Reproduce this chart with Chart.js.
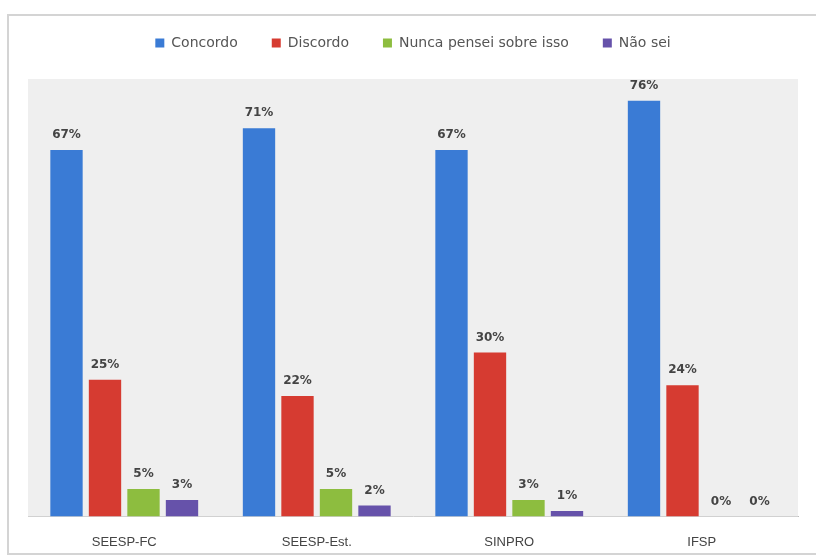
<!DOCTYPE html>
<html>
<head>
<meta charset="utf-8">
<script src="https://cdn.jsdelivr.net/npm/chart.js@4.4.1/dist/chart.umd.min.js"></script>
<style>
  html, body { margin: 0; padding: 0; background: #fff; }
  #quadro { position: absolute; left: 7px; top: 14px; width: 820px; height: 541px; border: 2px solid #d4d4d4; box-sizing: border-box; }
  #grafico { position: absolute; left: 0; top: 0; }
</style>
</head>
<body>
<div id="quadro"></div>
<canvas id="grafico" width="816" height="560"></canvas>
<script>
// Respostas por entidade (em %)
const categorias = ['SEESP-FC', 'SEESP-Est.', 'SINPRO', 'IFSP'];
const concordo = [67, 71, 67, 76];
const discordo = [25, 22, 30, 24];
const nuncaPensei = [5, 5, 3, 0];
const naoSei = [3, 2, 1, 0];

const fonte = '"Liberation Sans", Arial, sans-serif';
const fonteLarga = '"DejaVu Sans", sans-serif';

// fundo cinza da área de plotagem
const fundoPlot = {
  id: 'fundoPlot',
  beforeDatasetsDraw(chart) {
    const { ctx, chartArea: a } = chart;
    ctx.save();
    ctx.fillStyle = '#efefef';
    ctx.fillRect(a.left, a.top, a.right - a.left, a.bottom - a.top);
    ctx.restore();
  }
};

// espaço extra entre a legenda e o gráfico
const folgaLegenda = {
  id: 'folgaLegenda',
  beforeInit(chart) {
    const fitOriginal = chart.legend.fit;
    chart.legend.fit = function () {
      fitOriginal.bind(chart.legend)();
      this.height += 19;
    };
  }
};

// rótulos de valor em cima de cada barra
const rotulos = {
  id: 'rotulos',
  afterDatasetsDraw(chart) {
    const ctx = chart.ctx;
    ctx.save();
    ctx.font = 'bold 12px ' + fonteLarga;
    ctx.fillStyle = '#444';
    ctx.textAlign = 'center';
    ctx.textBaseline = 'bottom';
    chart.data.datasets.forEach((ds, i) => {
      chart.getDatasetMeta(i).data.forEach((barra, j) => {
        ctx.fillText(ds.data[j] + '%', barra.x, barra.y - 9);
      });
    });
    ctx.restore();
  }
};

new Chart(document.getElementById('grafico'), {
  type: 'bar',
  data: {
    labels: categorias,
    datasets: [
      { label: 'Concordo', data: concordo, backgroundColor: '#3a7bd5' },
      { label: 'Discordo', data: discordo, backgroundColor: '#d63b31' },
      { label: 'Nunca pensei sobre isso', data: nuncaPensei, backgroundColor: '#8dbd3f' },
      { label: 'Não sei', data: naoSei, backgroundColor: '#6652aa' }
    ]
  },
  options: {
    responsive: false,
    animation: false,
    layout: { padding: { left: 28, right: 18, top: 2, bottom: 0 } },
    datasets: { bar: { barPercentage: 0.84, categoryPercentage: 0.8 } },
    plugins: {
      legend: {
        position: 'top',
        labels: { boxWidth: 9, boxHeight: 9, padding: 34, color: '#555', font: { family: fonteLarga, size: 14 } }
      },
      tooltip: { enabled: false }
    },
    scales: {
      x: {
        grid: { display: false },
        border: { display: true, color: '#bdbdbd', width: 1 },
        ticks: { color: '#444', font: { family: fonte, size: 13 }, padding: 10 }
      },
      y: {
        display: false,
        min: 0,
        max: 80
      }
    }
  },
  plugins: [fundoPlot, folgaLegenda, rotulos]
});
</script>
</body>
</html>
